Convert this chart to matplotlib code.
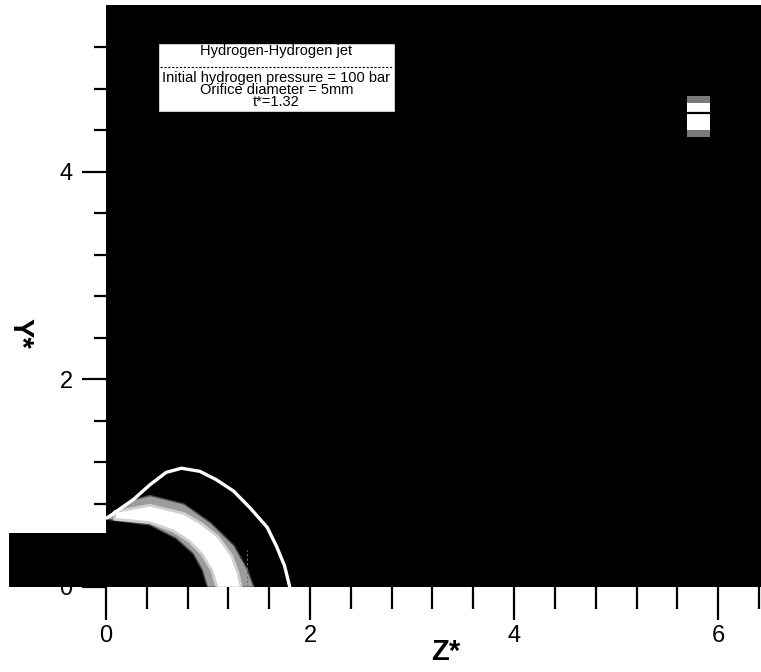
"""Hydrogen-hydrogen jet snapshot: shock front and contact band at t*=1.32."""

import numpy as np
import matplotlib

matplotlib.use("Agg")
import matplotlib.pyplot as plt
from matplotlib.patches import Rectangle

plt.rcParams["font.family"] = ["Liberation Sans", "DejaVu Sans"]

# leading shock (thin white arc)
shock_z = [0.01, 0.27, 0.43, 0.59, 0.74, 0.92, 1.08, 1.25, 1.41, 1.58, 1.67, 1.75, 1.80]
shock_y = [0.66, 0.84, 0.98, 1.10, 1.14, 1.11, 1.03, 0.92, 0.76, 0.57, 0.39, 0.20, 0.00]

# bright core of the hydrogen band
core_outer_z = [0.10, 0.43, 0.76, 0.92, 1.09, 1.22, 1.28, 1.31]
core_outer_y = [0.71, 0.77, 0.69, 0.60, 0.47, 0.29, 0.13, 0.00]
core_inner_z = [0.10, 0.43, 0.66, 0.82, 0.95, 1.05, 1.10]
core_inner_y = [0.66, 0.63, 0.55, 0.45, 0.32, 0.16, 0.00]

# grey fringe around the band
fringe_outer_z = [0.01, 0.11, 0.27, 0.43, 0.76, 1.02, 1.25, 1.38, 1.44]
fringe_outer_y = [0.67, 0.72, 0.83, 0.87, 0.79, 0.61, 0.39, 0.16, 0.00]
fringe_inner_z = [0.01, 0.04, 0.43, 0.69, 0.86, 0.95, 1.00]
fringe_inner_y = [0.67, 0.65, 0.60, 0.47, 0.32, 0.16, 0.00]

# reservoir / orifice block left of Z*=0
nozzle_z = [-0.95, 0.0]
nozzle_y = [0.0, 0.52]

# small marker patch at upper right
marker_z = [5.69, 5.92]
marker_core_y = [4.40, 4.665]
marker_fringe_y = [4.33, 4.73]
marker_line_y = 4.566

# annotation box
box_z = [0.51, 2.83]
box_y = [4.57, 5.24]
box_title = "Hydrogen-Hydrogen jet"
box_lines = ["Initial hydrogen pressure = 100 bar", "Orifice diameter = 5mm", "t*=1.32"]

x_major = [0, 2, 4, 6]
y_major = [0, 2, 4]


def _band(outer_z, outer_y, inner_z, inner_y):
    z = np.concatenate([outer_z, inner_z[::-1]])
    y = np.concatenate([outer_y, inner_y[::-1]])
    return z, y


fig = plt.figure(figsize=(7.61, 6.72), dpi=100)
ax = fig.add_axes([106 / 761, 1 - 586.5 / 672, 655 / 761, 581.5 / 672])
ax.set_facecolor("black")
ax.set_xlim(0, 6.42)
ax.set_ylim(0, 5.605)
for spine in ax.spines.values():
    spine.set_visible(False)

# band: grey fringe then bright core with a soft rim
fz, fy = _band(fringe_outer_z, fringe_outer_y, fringe_inner_z, fringe_inner_y)
ax.fill(fz, fy, color="#9c9c9c", lw=0, zorder=1)
ax.fill(fz, fy, facecolor="none", edgecolor="#4a4a4a", lw=2, zorder=0.9)
cz, cy = _band(core_outer_z, core_outer_y, core_inner_z, core_inner_y)
ax.fill(cz, cy, facecolor="none", edgecolor="#d0d0d0", lw=4, zorder=1.1)
ax.fill(cz, cy, color="white", lw=0, zorder=1.2)

# shock
ax.plot(shock_z, shock_y, color="white", lw=2.4, solid_capstyle="round", zorder=2)
ax.plot([1.38, 1.38], [0.0, 0.35], color="#6e6e6e", lw=0.8, ls=(0, (2, 2)), zorder=1.5)

# marker patch
ax.add_patch(Rectangle((marker_z[0], marker_fringe_y[0]), marker_z[1] - marker_z[0],
                       marker_fringe_y[1] - marker_fringe_y[0], color="#7a7a7a", lw=0, zorder=2))
ax.add_patch(Rectangle((marker_z[0], marker_core_y[0]), marker_z[1] - marker_z[0],
                       marker_core_y[1] - marker_core_y[0], color="white", lw=0, zorder=2.1))
ax.plot(marker_z, [marker_line_y, marker_line_y], color="black", lw=1.6, zorder=2.2)

# annotation box
ax.add_patch(Rectangle((box_z[0], box_y[0]), box_z[1] - box_z[0], box_y[1] - box_y[0],
                       facecolor="white", edgecolor="black", lw=1, zorder=3))
zc = 0.5 * (box_z[0] + box_z[1])
ax.text(zc, 5.165, box_title, ha="center", va="center", fontsize=10.5, zorder=4)
ax.plot([box_z[0] + 0.02, box_z[1] - 0.02], [5.01, 5.01], color="black", lw=0.8,
        ls=(0, (2, 1.5)), zorder=4)
ax.text(zc, 4.785, "\n".join(box_lines), ha="center", va="center", fontsize=10.5,
        linespacing=0.85, zorder=4)

# orifice block drawn over the y=0 tick label
ax.add_patch(Rectangle((nozzle_z[0], nozzle_y[0]), nozzle_z[1] - nozzle_z[0],
                       nozzle_y[1] - nozzle_y[0], color="black", lw=0, clip_on=False, zorder=5))

# ticks
ax.set_xticks(x_major)
ax.set_xticks(np.arange(0.4, 6.41, 0.4), minor=True)
ax.set_yticks(y_major)
ax.set_yticks(np.arange(0.4, 5.3, 0.4), minor=True)
ax.tick_params(axis="x", which="major", length=24, width=1.6, labelsize=17, pad=4, direction="out")
ax.tick_params(axis="x", which="minor", length=16, width=1.6, direction="out")
ax.tick_params(axis="y", which="major", length=17, width=1.6, labelsize=17, pad=7, direction="out")
ax.tick_params(axis="y", which="minor", length=9, width=1.6, direction="out")

ax.set_xlabel("Z*", fontsize=21, fontweight="bold", va="center")
ax.xaxis.set_label_coords(0.519, -0.112)
ax.set_ylabel("Y*", fontsize=21, fontweight="bold", rotation=-90, va="center", ha="center")
ax.yaxis.set_label_coords(-0.13, 0.436)

fig.savefig("out.png", dpi=100)
